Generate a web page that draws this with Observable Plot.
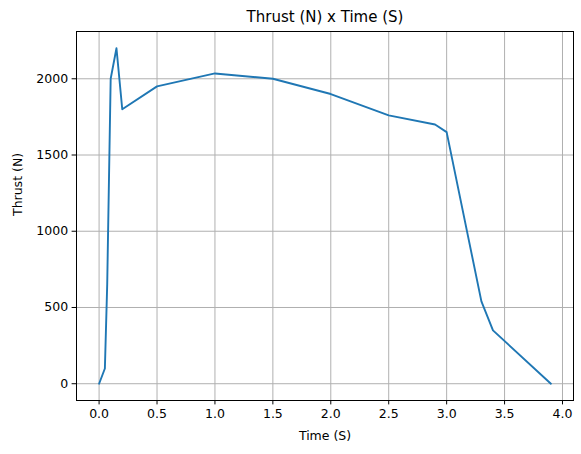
<!DOCTYPE html>
<html><head><meta charset="utf-8">
<script src="https://cdn.jsdelivr.net/npm/d3@7"></script>
<script src="https://cdn.jsdelivr.net/npm/@observablehq/plot@0.6"></script>
<style>body{margin:0;background:#fff}</style>
</head><body><div id="chart"></div>
<script>
const time   = [0, 0.05, 0.07, 0.1, 0.15, 0.2, 0.5, 1.0, 1.5, 2.0, 2.5, 2.9, 3.0, 3.3, 3.4, 3.9];
const thrust = [0, 100, 650, 2000, 2200, 1800, 1950, 2035, 2000, 1900, 1760, 1700, 1650, 540, 350, 0];
const xTicks = [0, 0.5, 1.0, 1.5, 2.0, 2.5, 3.0, 3.5, 4.0];
const yTicks = [0, 500, 1000, 1500, 2000];
const titleText = "Thrust (N) x Time (S)";
const xLabel = "Time (S)";
const yLabel = "Thrust (N)";

const data = time.map((t, i) => ({t, f: thrust[i]}));
const font = "DejaVu Sans";

const chart = Plot.plot({
  width: 581, height: 454,
  marginLeft: 76, marginRight: 8, marginTop: 31, marginBottom: 54,
  style: {fontFamily: font, fontSize: "12.5px", background: "white", color: "black", overflow: "visible"},
  x: {domain: [-0.195, 4.095]},
  y: {domain: [-110, 2310]},
  marks: [
    Plot.gridX(xTicks, {stroke: "#b0b0b0", strokeOpacity: 1, strokeWidth: 1}),
    Plot.gridY(yTicks, {stroke: "#b0b0b0", strokeOpacity: 1, strokeWidth: 1}),
    Plot.line(data, {x: "t", y: "f", stroke: "#1f77b4", strokeWidth: 1.9}),
    Plot.frame({stroke: "black", strokeWidth: 1}),
    Plot.axisX(xTicks, {tickSize: 4.4, tickPadding: 4, tickFormat: d3.format(".1f"), label: null, fontSize: 12.5}),
    Plot.axisY(yTicks, {tickSize: 4.4, tickPadding: 4, tickFormat: d => String(d), label: null, fontSize: 12.5}),
    Plot.text([xLabel], {text: d => d, frameAnchor: "bottom", lineAnchor: "middle", dy: 35, fontSize: 12.5, fill: "black"}),
    Plot.text([yLabel], {text: d => d, frameAnchor: "left", lineAnchor: "middle", dx: -59, rotate: -90, fontSize: 12.5, fill: "black"}),
    Plot.text([titleText], {text: d => d, frameAnchor: "top", lineAnchor: "middle", dy: -14, fontSize: 15, fill: "black"})
  ]
});
document.getElementById("chart").appendChild(chart);
</script>
</body></html>
